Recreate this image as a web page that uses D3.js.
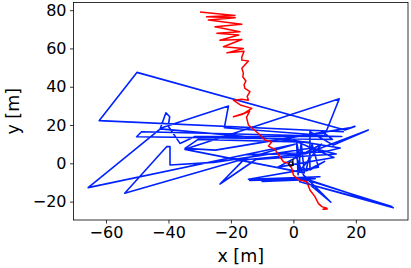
<!DOCTYPE html>
<html><head><meta charset="utf-8">
<script src="https://cdn.jsdelivr.net/npm/d3@7"></script>
<style>body{margin:0;background:#fff}svg{display:block}text{font-family:"DejaVu Sans",sans-serif}</style>
</head><body>
<svg id="c" width="411" height="268"></svg>
<script>
const xTicks = [-60, -40, -20, 0, 20];
const yTicks = [-20, 0, 20, 40, 60, 80];
const xLabel = "x [m]";
const yLabel = "y [m]";

const blueX = [2.0,1.0,1.5,2.5,3.5,-34.7,14.7,10.0,-22.1,-20.8,-42.6,-40.8,-39.6,-40.1,-36.3,-31.5,15.5,-48.6,-50.2,12.5,9.0,16.0,-62.2,-50.1,16.5,19.7,18.0,-25.0,-34.7,-30.5,5.0,-42.6,-65.7,0.5,-54.0,-40.6,-39.5,-39.5,-25.5,6.0,13.7,-12.0,-23.5,-16.0,4.0,24.0,12.8,5.3,5.3,10.0,4.0,6.0,8.0,-14.4,8.5,-14.0,7.0,-10.0,4.5,32.0,2.0,31.5,3.0,12.0,3.2,0.5,-15.0,10.0,15.0,0.0,13.0,-5.0,9.0,2.0,2.0];
const blueY = [3.0,11.5,-6.0,11.0,-5.0,7.3,33.7,14.5,18.6,29.9,18.3,26.4,24.3,19.5,10.4,14.0,14.0,16.5,13.9,12.5,17.0,16.5,22.3,47.5,17.4,19.3,18.5,6.9,7.8,12.5,11.0,18.0,-12.7,10.0,-15.6,8.7,8.7,-0.9,0.5,8.0,4.9,2.0,-10.8,1.7,5.0,17.4,9.5,16.5,-3.5,1.0,-4.0,10.0,-2.0,-8.3,-7.0,-9.0,-8.0,-9.5,-8.5,-23.2,-9.6,-22.5,-8.0,-20.3,-6.0,5.0,4.5,6.0,8.0,12.0,3.0,-2.0,10.0,-4.0,3.0];

const redX = [-29.9,-18.7,-27.8,-18.6,-27.2,-16.5,-25.1,-17.1,-24.5,-17.5,-23.5,-16.5,-22.4,-16.0,-21.3,-15.8,-16.5,-16.5,-14.4,-16.5,-16.0,-16.2,-15.2,-15.8,-15.5,-13.9,-14.8,-14.4,-16.5,-19.2,-17.0,-13.3,-16.0,-19.2,-16.5,-14.0,-15.0,-14.4,-11.2,-9.1,-6.9,-8.0,-5.9,-4.3,-3.2,-1.6,-0.5,0.0,1.1,2.1,4.3,5.3,6.9,8.0,9.1,10.7,9.5,11.0];
const redY = [79.1,77.2,76.5,76.0,74.8,72.7,71.3,68.7,68.0,67.0,64.3,64.7,60.9,60.0,57.7,58.5,55.5,53.9,53.4,49.6,47.0,45.2,43.0,41.0,39.1,37.4,35.0,33.0,33.5,33.0,30.5,28.7,26.0,24.3,25.5,27.3,24.0,20.0,15.6,12.2,11.3,9.0,7.3,3.4,0.8,0.0,-2.6,-6.1,-7.8,-8.7,-9.6,-13.9,-17.4,-20.9,-22.6,-23.5,-24.0,-23.8];

const markerX = [-0.8];
const markerY = [0.2];

const svg = d3.select("#c");
const L = 73.5, R = 408, T = 2.5, B = 220;
const x = d3.scaleLinear().domain([-70.4, 36.7]).range([L, R]);
const y = d3.scaleLinear().domain([-29.6, 84]).range([B, T]);

const g = svg.append("g");
const line = d3.line().x(d => x(d[0])).y(d => y(d[1]));
const blue = blueX.map((v, i) => [v, blueY[i]]);
const red = redX.map((v, i) => [v, redY[i]]);

g.append("path").attr("d", line(blue)).attr("fill", "none").attr("stroke", "#0022ff").attr("stroke-width", 1.6).attr("stroke-linejoin", "round");
g.append("path").attr("d", line(red)).attr("fill", "none").attr("stroke", "#ff0000").attr("stroke-width", 1.5).attr("stroke-linejoin", "round");

markerX.forEach((mx, i) => {
  const px = x(mx), py = y(markerY[i]);
  g.append("circle").attr("cx", px).attr("cy", py + 1).attr("r", 2).attr("fill", "none").attr("stroke", "#000").attr("stroke-width", 1.3);
  g.append("line").attr("x1", px + 2).attr("x2", px + 2).attr("y1", py - 4).attr("y2", py + 3).attr("stroke", "#000").attr("stroke-width", 1.3);
});

const fmt = d => d3.format("")(d).replace("-", "\u2212");
const xAxis = d3.axisBottom(x).tickValues(xTicks).tickSize(3.5).tickPadding(3.5).tickFormat(fmt);
const yAxis = d3.axisLeft(y).tickValues(yTicks).tickSize(3.5).tickPadding(3.5).tickFormat(fmt);

const gx = svg.append("g").attr("transform", `translate(0,${B})`).call(xAxis);
const gy = svg.append("g").attr("transform", `translate(${L},0)`).call(yAxis);
[gx, gy].forEach(a => {
  a.select(".domain").remove();
  a.selectAll(".tick line").attr("stroke", "#000").attr("stroke-width", 0.8);
  a.selectAll(".tick text").attr("fill", "#000").style("font-size", "16px").style("font-family", "DejaVu Sans");
});

svg.append("rect").attr("x", L).attr("y", T).attr("width", R - L).attr("height", B - T).attr("fill", "none").attr("stroke", "#000").attr("stroke-width", 0.8);

svg.append("text").attr("x", (L + R) / 2).attr("y", 262).attr("text-anchor", "middle").style("font-size", "17.5px").text(xLabel);
svg.append("text").attr("transform", `translate(19,${(T + B) / 2}) rotate(-90)`).attr("text-anchor", "middle").style("font-size", "17.5px").text(yLabel);
</script>
</body></html>
